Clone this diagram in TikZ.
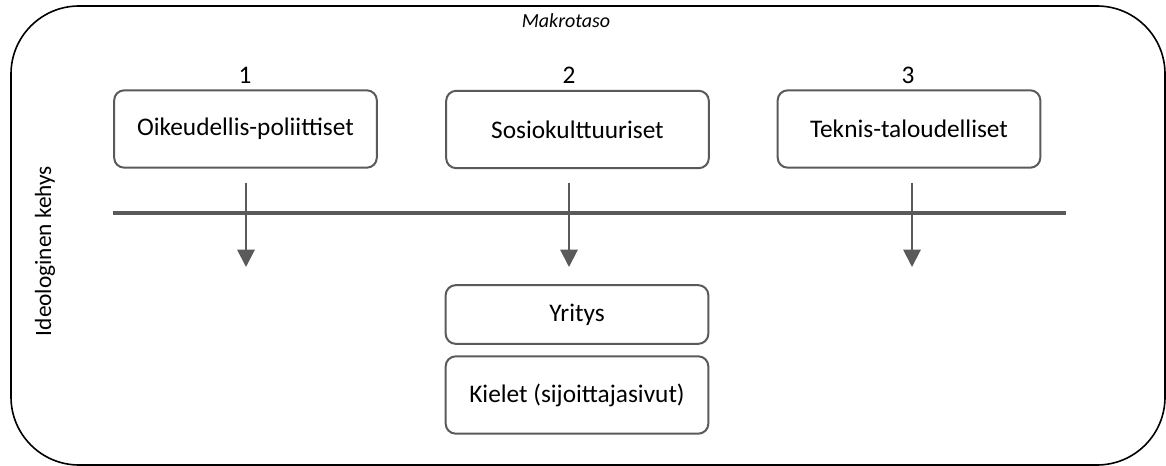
\documentclass[tikz,border=0pt]{standalone}
\usepackage{fontspec}
\setmainfont{Carlito}
\usetikzlibrary{arrows.meta}
\definecolor{linegray}{HTML}{5A5A5A}

\begin{document}
\begin{tikzpicture}[x = 0.75pt, y = -0.75pt, > = {Triangle[length = 13pt, width = 13pt]},
	factor/.style = {draw = linegray, line width = 1.5pt, rounded corners = 7.5pt, minimum width = 197pt, minimum height = 58pt, font = \fontsize{19}{23}\selectfont},
	level/.style = {font = \fontsize{19}{23}\selectfont}]

\useasboundingbox (0, 0) rectangle (1166, 466);

% The frame

\draw [line width = 1.2pt, rounded corners = 51pt] (11, 6) rectangle (1165, 465);
\node (macro) at (566, 21) {\fontsize{15}{18}\selectfont\itshape Makrotaso};
\node [rotate = 90, font = \fontsize{17.5}{21}\selectfont] (frame) at (45, 251) {Ideologinen kehys};

% Levels and factors

\node [level] (n1) at (245, 75) {1};
\node [level] (n2) at (569, 75) {2};
\node [level] (n3) at (908, 75) {3};

\node [factor] (legal) at (245.5, 129) {Oikeudellis-poliittiset};
\node [factor] (social) at (577.5, 129.5) {Sosiokulttuuriset};
\node [factor] (tech) at (909, 129) {Teknis-taloudelliset};

% The dividing line

\draw [linegray, line width = 3pt] (113, 213) coordinate (line-w) -- (1066, 213) coordinate (line-e);

% Arrows

\coordinate (a1) at (246, 183);
\coordinate (a2) at (569, 183);
\coordinate (a3) at (912, 183);
\draw [->, linegray, line width = 1.5pt] (a1) -- ++ (0, 84);
\draw [->, linegray, line width = 1.5pt] (a2) -- ++ (0, 84);
\draw [->, linegray, line width = 1.5pt] (a3) -- ++ (0, 84);

% The company and the languages

\node [factor, minimum height = 44pt] (company) at (577, 314.5) {Yritys};
\node [factor] (lang) at (577, 395) {Kielet (sijoittajasivut)};

\end{tikzpicture}
\end{document}
